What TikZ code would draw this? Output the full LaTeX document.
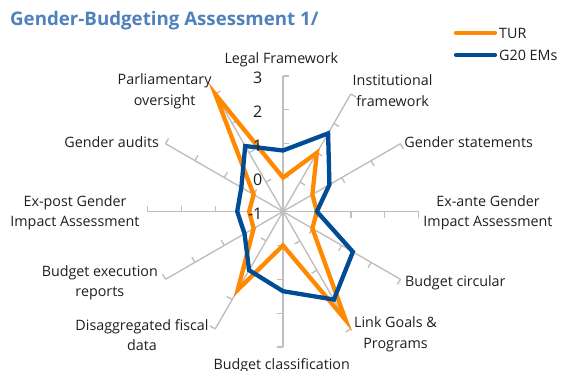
\documentclass[tikz,border=0pt]{standalone}
\usepackage{fontspec}
\setmainfont{Open Sans}
\definecolor{turc}{RGB}{255,137,0}
\definecolor{emc}{RGB}{0,76,151}
\definecolor{axc}{RGB}{191,191,191}
\definecolor{titc}{RGB}{79,129,189}
\definecolor{txtc}{RGB}{30,30,30}
\begin{document}
\begin{tikzpicture}[x=1pt,y=1pt,
  axisline/.style={draw=axc,line width=1.4pt},
  turl/.style={draw=turc,line width=4.3pt,line join=miter},
  eml/.style={draw=emc,line width=4.3pt,line join=miter},
  lab/.style={font=\fontsize{14.3}{20.5}\selectfont,align=center,inner sep=0pt,text=txtc},
  num/.style={font=\fontsize{16}{18}\selectfont,inner sep=0pt,anchor=east,text=txtc},
  leg/.style={font=\fontsize{14.3}{16}\selectfont,inner sep=0pt,anchor=west,text=txtc}]
\useasboundingbox (0,0) rectangle (562,370);
% title
\node[anchor=west,inner sep=0pt,text=titc,font=\fontsize{18.7}{20}\selectfont\bfseries] (title) at (10,349) {Gender-Budgeting Assessment 1/};
% axes
\begin{scope}[shift={(283,158.5)}]
\coordinate (c) at (0,0);
\foreach \a in {90,60,...,-240} {
  \pgfmathsetmacro\b{\a-90}
  \draw[axisline] (c) -- (\a:135.6);
  \foreach \r in {33.9,67.8,101.7,135.6} \draw[axisline] (\a:\r) -- ++(\b:6);
}
% data
\draw[turl] (90:33.9) -- (60:67.8) -- (30:33.9) -- (0:33.9) -- (-30:33.9) -- (-60:125.4) -- (-90:33.9) -- (-120:90.5) -- (-150:33.9) -- (180:33.9) -- (150:33.9) -- (120:135.6) -- cycle;
\draw[eml] (90:61.0) -- (60:90.2) -- (30:53.6) -- (0:33.9) -- (-30:80.7) -- (-60:101.7) -- (-90:79.7) -- (-120:67.8) -- (-150:44.4) -- (180:45.8) -- (150:48.1) -- (120:75.6) -- cycle;
% scale numbers
\node[num] (n3) at (-20.5,133.6) {3};
\node[num] (n2) at (-20.5,99.7) {2};
\node[num] (n1) at (-20.5,65.8) {1};
\node[num] (n0) at (-20.5,31.9) {0};
\node[num] (nm) at (-20.5,-2) {-1};
\end{scope}
% category labels
\node[lab] (l1) at (281.3,310) {Legal Framework};
\node[lab] (l2) at (392.6,279.3) {Institutional\\framework};
\node[lab] (l3) at (468.7,228.3) {Gender statements};
\node[lab] (l4) at (488,157) {Ex-ante Gender\\Impact Assessment};
\node[lab] (l5) at (455.3,87.3) {Budget circular};
\node[lab] (l6) at (395.5,35.5) {Link Goals \&\\Programs};
\node[lab] (l7) at (281.7,4.5) {Budget classification};
\node[lab] (l8) at (142,35) {Disaggregated fiscal\\data};
\node[lab] (l9) at (99.8,87.3) {Budget execution\\reports};
\node[lab] (l10) at (75,157) {Ex-post Gender\\Impact Assessment};
\node[lab] (l11) at (111.7,228.3) {Gender audits};
\node[lab] (l12) at (164.6,278.8) {Parliamentary\\oversight};
% legend
\coordinate (ta) at (456,337);
\coordinate (tb) at (495,337);
\coordinate (ea) at (456,315);
\coordinate (eb) at (495,315);
\draw[turl,line cap=round] (ta) -- (tb);
\draw[eml,line cap=round] (ea) -- (eb);
\node[leg] (lt) at (499,337) {TUR};
\node[leg] (le) at (499,315) {G20 EMs};
\end{tikzpicture}
\end{document}
